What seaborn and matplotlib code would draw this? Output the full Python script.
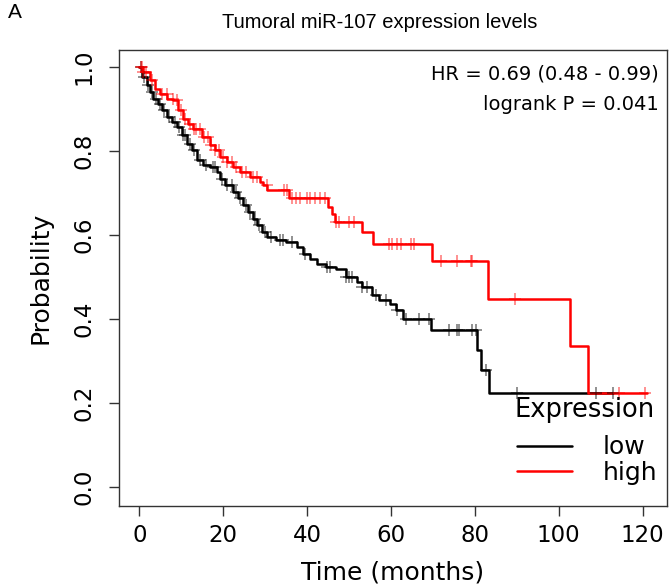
import numpy as np
import pandas as pd
import seaborn as sns
import matplotlib.pyplot as plt
from matplotlib.lines import Line2D
from matplotlib import font_manager

# ---------------- data ----------------
low_time = [0, 0.7, 1.9, 2.6, 3.3, 4.5, 5.5, 6.6, 7.8, 9.0, 10.2, 11.4, 12.6, 13.8,
            15.2, 16.9, 18.5, 19.2, 20.4, 22.3, 23.5, 24.7, 26.0, 27.0, 28.0, 29.3,
            30.5, 32.6, 35.0, 37.6, 39.0, 40.6, 42.3, 44.6, 46.9, 49.4, 51.8, 53.2,
            55.6, 57.2, 59.7, 61.3, 62.8, 69.6, 80.5, 81.5, 83.4, 113.0]
low_surv = [1.0, 0.976, 0.957, 0.94, 0.924, 0.912, 0.898, 0.881, 0.869, 0.857, 0.838,
            0.817, 0.802, 0.779, 0.767, 0.762, 0.75, 0.733, 0.719, 0.702, 0.688, 0.671,
            0.655, 0.638, 0.624, 0.607, 0.595, 0.588, 0.583, 0.571, 0.555, 0.543, 0.531,
            0.524, 0.519, 0.5, 0.488, 0.476, 0.457, 0.445, 0.436, 0.421, 0.40, 0.374,
            0.326, 0.279, 0.224, 0.224]
low_censor = [0.5, 1.2, 2.0, 3.0, 4.0, 5.0, 6.0, 7.0, 8.5, 9.5, 10.5, 11.0, 12.0, 13.0,
              14.5, 16.0, 17.5, 18.0, 19.8, 21.0, 22.0, 23.0, 24.0, 25.5, 26.5, 27.5,
              28.5, 30.0, 31.5, 33.5, 34.2, 36.3, 39.4, 44.7, 45.4, 49.4, 50.1, 50.8,
              53.2, 54.2, 56.5, 58.9, 61.5, 63.7, 66.7, 69.1, 73.9, 75.8, 76.2, 79.3,
              80.3, 82.7, 90.0, 108.8, 113.0]

high_time = [0, 0.95, 2.6, 3.8, 5.0, 6.65, 8.1, 9.3, 10.5, 11.6, 12.8, 15.0, 16.9, 18.0,
             19.2, 20.9, 22.3, 24.0, 26.4, 28.7, 29.5, 30.5, 35.6, 45.1, 45.9, 46.6,
             53.2, 55.8, 69.9, 83.1, 102.8, 107.0, 121.0]
high_surv = [1.0, 0.988, 0.969, 0.948, 0.936, 0.924, 0.921, 0.898, 0.876, 0.864, 0.852,
             0.833, 0.814, 0.802, 0.786, 0.774, 0.762, 0.75, 0.738, 0.726, 0.718, 0.706,
             0.688, 0.667, 0.65, 0.631, 0.607, 0.579, 0.537, 0.448, 0.336, 0.224, 0.224]
high_censor = [0.3, 0.6, 1.0, 1.5, 3.0, 5.5, 6.5, 8.0, 9.0, 10.0, 11.0, 12.0, 13.0, 13.5,
               14.5, 15.5, 16.5, 17.0, 18.0, 19.0, 20.0, 21.0, 22.0, 23.0, 24.5, 25.5,
               27.0, 28.0, 30.4, 34.5, 35.2, 36.5, 37.3, 38.3, 40.0, 40.8, 42.0, 43.2,
               44.3, 47.0, 47.7, 50.1, 51.3, 59.6, 60.3, 61.5, 62.5, 64.8, 65.6, 72.0,
               75.8, 79.1, 79.3, 89.7, 114.3, 120.6]

groups = ["low", "high"]
colors = {"low": "#000000", "high": "#FF0000"}
x_ticks = [0, 20, 40, 60, 80, 100, 120]
y_ticks = [0.0, 0.2, 0.4, 0.6, 0.8, 1.0]
title = "Tumoral miR-107 expression levels"
hr_text = "HR = 0.69 (0.48 - 0.99)"
p_text = "logrank P = 0.041"
legend_title = "Expression"

# ---------------- build tables ----------------
curves = pd.concat([
    pd.DataFrame({"time": low_time, "surv": low_surv, "group": "low"}),
    pd.DataFrame({"time": high_time, "surv": high_surv, "group": "high"}),
], ignore_index=True)


def surv_at(times, survs, c):
    idx = np.searchsorted(np.asarray(times), c, side="right") - 1
    return np.asarray(survs)[idx]


censor = pd.concat([
    pd.DataFrame({"time": low_censor, "surv": surv_at(low_time, low_surv, low_censor), "group": "low"}),
    pd.DataFrame({"time": high_censor, "surv": surv_at(high_time, high_surv, high_censor), "group": "high"}),
], ignore_index=True)

# ---------------- plot ----------------
sns.set_theme(style="white")
plt.rcParams["font.family"] = ["DejaVu Sans"]
plt.rcParams["text.color"] = "black"
plt.rcParams["axes.labelcolor"] = "black"
plt.rcParams["xtick.color"] = "black"
plt.rcParams["ytick.color"] = "black"

names = {f.name for f in font_manager.fontManager.ttflist}
narrow = "Liberation Sans Narrow" if "Liberation Sans Narrow" in names else "Liberation Sans"

W, H = 670, 587
fig = plt.figure(figsize=(W / 100, H / 100), dpi=100)
ax_l, ax_r, ax_t, ax_b = 119, 667, 50, 506
ax = fig.add_axes([ax_l / W, 1 - ax_b / H, (ax_r - ax_l) / W, (ax_b - ax_t) / H])

sns.lineplot(data=curves, x="time", y="surv", hue="group", palette=colors,
             hue_order=groups, estimator=None, sort=False, drawstyle="steps-post",
             linewidth=1.8, legend=False, ax=ax)
for g in groups:
    sub = censor[censor.group == g]
    ax.plot(sub["time"], sub["surv"], linestyle="none", marker="+", markersize=9,
            markeredgewidth=1.1, color=colors[g], alpha=0.55)

ax.set_xlim(-4.84, 125.84)
ax.set_ylim(-0.045, 1.04)
ax.set_xticks(x_ticks)
ax.set_yticks(y_ticks)
ax.set_xticklabels([str(v) for v in x_ticks], fontsize=16.5)
ax.set_yticklabels([f"{v:.1f}" for v in y_ticks], fontsize=16.5, rotation=90, va="center")
ax.tick_params(axis="x", direction="out", length=7, width=1, color="#333333",
               bottom=True, pad=6, labelcolor="black")
ax.tick_params(axis="y", direction="out", length=7, width=1, color="#333333",
               left=True, pad=10, labelcolor="black")
for s in ax.spines.values():
    s.set_color("#333333")
    s.set_linewidth(1.0)
ax.set_xlabel("Time (months)", fontsize=18, labelpad=10, color="black")
ax.set_ylabel("Probability", fontsize=18, labelpad=14, color="black")

ax_h = ax_b - ax_t
ax.text(0.985, 1 - 24 / ax_h, hr_text, transform=ax.transAxes, ha="right", va="center",
        fontsize=14, color="black")
ax.text(0.985, 1 - 54 / ax_h, p_text, transform=ax.transAxes, ha="right", va="center",
        fontsize=14, color="black")

# legend (entries) plus its title as text
handles = [Line2D([0], [0], color=colors[g], lw=1.8) for g in groups]
leg = ax.legend(handles, groups, loc="center right", frameon=False,
                bbox_to_anchor=(1 - 10 / (ax_r - ax_l), (ax_b - 460) / ax_h),
                fontsize=18, handlelength=2.2, handletextpad=1.2,
                labelspacing=0.05, borderaxespad=0.0, borderpad=0.0, labelcolor="black")
ax.text(1 - 12 / (ax_r - ax_l), (ax_b - 410) / ax_h, legend_title, transform=ax.transAxes,
        ha="right", va="center", fontsize=18.5, color="black")

fig.text(380 / W, 1 - 22 / H, title, ha="center", va="center", fontsize=14.5,
         family=[narrow, "DejaVu Sans"], color="black")
fig.text(8 / W, 1 - 12 / H, "A", ha="left", va="center", fontsize=15,
         family=[narrow, "DejaVu Sans"], color="black")

fig.savefig("out.png", dpi=100)
